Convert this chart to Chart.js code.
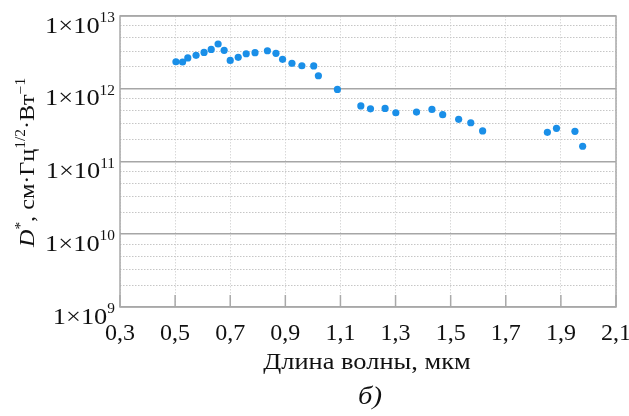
<!DOCTYPE html>
<html>
<head>
<meta charset="utf-8">
<script src="https://cdn.jsdelivr.net/npm/chart.js@4/dist/chart.umd.min.js"></script>
<style>
  body { margin: 0; background: #fff; }
  #wrap { width: 629px; height: 416px; position: relative; }
</style>
</head>
<body>
<div id="wrap"><canvas id="myChart"></canvas></div>
<script>
'use strict';

// wavelength, um
var wavelength = [0.503, 0.527, 0.546, 0.576, 0.605, 0.631, 0.656, 0.678, 0.700, 0.729,
                  0.758, 0.790, 0.835, 0.866, 0.890, 0.924, 0.960, 1.003, 1.020, 1.089,
                  1.174, 1.209, 1.262, 1.301, 1.376, 1.432, 1.471, 1.529, 1.573, 1.616,
                  1.851, 1.884, 1.951, 1.979];
// D*, cm*Hz^1/2*W^-1
var detectivity = [2.35e12, 2.33e12, 2.65e12, 2.88e12, 3.16e12, 3.47e12, 4.12e12, 3.37e12, 2.45e12, 2.70e12,
                   3.03e12, 3.13e12, 3.33e12, 3.07e12, 2.54e12, 2.24e12, 2.07e12, 2.06e12, 1.51e12, 0.98e12,
                   5.8e11, 5.3e11, 5.37e11, 4.68e11, 4.78e11, 5.2e11, 4.4e11, 3.8e11, 3.41e11, 2.63e11,
                   2.52e11, 2.86e11, 2.6e11, 1.62e11];

var xTicks = [0.3, 0.5, 0.7, 0.9, 1.1, 1.3, 1.5, 1.7, 1.9, 2.1];
var yDecades = [1e9, 1e10, 1e11, 1e12, 1e13];
var yMinorSteps = [2, 3.3, 5, 7.3];

var xTitle = 'Длина волны, мкм';
var panelLabel = 'б)';

var serif = '"Liberation Serif", "Times New Roman", serif';
var stretch = 1.1; // the scanned figure's lettering is a little wider than Liberation Serif

var points = wavelength.map(function (w, i) { return { x: w, y: detectivity[i] }; });

// draw text segments in a row, stretched horizontally, anchored by align
function drawRow(ctx, parts, x, y, align) {
    var total = 0;
    parts.forEach(function (p) { ctx.font = p.f; p.w = ctx.measureText(p.t).width; total += p.w; });
    ctx.save();
    ctx.translate(x, y);
    ctx.scale(stretch, 1);
    ctx.textAlign = 'left';
    ctx.textBaseline = 'alphabetic';
    var cx = align === 'right' ? -total : align === 'center' ? -total / 2 : 0;
    parts.forEach(function (p) {
        ctx.font = p.f;
        ctx.fillText(p.t, cx, -(p.up || 0));
        cx += p.w;
    });
    ctx.restore();
}

var decorations = {
    id: 'decorations',
    beforeDatasetsDraw: function (chart) {
        var ctx = chart.ctx, a = chart.chartArea, x = chart.scales.x;
        ctx.save();
        ctx.strokeStyle = '#a9a9a9';
        ctx.lineWidth = 1.5;
        ctx.beginPath();
        x.ticks.forEach(function (t) {
            var px = x.getPixelForValue(t.value);
            ctx.moveTo(px, a.bottom);
            ctx.lineTo(px, a.bottom - 12);
        });
        ctx.stroke();
        ctx.strokeRect(a.left, a.top, a.right - a.left, a.bottom - a.top);
        ctx.restore();
    },
    afterDraw: function (chart) {
        var ctx = chart.ctx, a = chart.chartArea, y = chart.scales.y;
        ctx.save();
        ctx.fillStyle = '#111';

        // y tick labels 1x10^n
        y.ticks.forEach(function (t) {
            if (!t.major) return;
            var py = y.getPixelForValue(t.value);
            var exp = String(Math.round(Math.log10(t.value)));
            drawRow(ctx, [
                { t: '1×10', f: '24px ' + serif, up: 0 },
                { t: exp, f: '14px ' + serif, up: 10.5 }
            ], a.left - 5, py + 16.5, 'right');
        });

        // y axis title, rotated, with superscripts
        ctx.save();
        ctx.translate(34, (a.top + a.bottom) / 2 + 1);
        ctx.rotate(-Math.PI / 2);
        drawRow(ctx, [
            { t: 'D', f: 'italic 22px ' + serif },
            { t: '*', f: '14px ' + serif, up: 9 },
            { t: ', см·Гц', f: '22px ' + serif },
            { t: '1/2', f: '14px ' + serif, up: 9 },
            { t: '·Вт', f: '22px ' + serif },
            { t: '−1', f: '14px ' + serif, up: 9 }
        ], 0, 0, 'center');
        ctx.restore();

        // x axis title and panel label
        var mid = (a.left + a.right) / 2;
        drawRow(ctx, [{ t: xTitle, f: '24px ' + serif }], mid - 1, 369, 'center');
        drawRow(ctx, [{ t: panelLabel, f: 'italic 26px ' + serif }], mid + 2, 404, 'center');
        ctx.restore();
    }
};

var ctx = document.getElementById('myChart').getContext('2d');
var chart = new Chart(ctx, {
    type: 'scatter',
    data: {
        datasets: [{
            data: points,
            backgroundColor: '#1a8fe8',
            borderWidth: 0,
            pointRadius: 3.6
        }]
    },
    options: {
        responsive: true,
        maintainAspectRatio: false,
        animation: false,
        layout: { padding: { top: 16, right: 13, left: 0, bottom: 0 } },
        plugins: { legend: { display: false }, tooltip: { enabled: false } },
        scales: {
            x: {
                type: 'linear',
                min: 0.3,
                max: 2.1,
                afterBuildTicks: function (s) {
                    s.ticks = xTicks.map(function (v) { return { value: v }; });
                },
                afterFit: function (s) {
                    s.height = 109;
                    s.paddingLeft = 0;
                    s.paddingRight = 0;
                },
                grid: { color: '#d9d9d9', lineWidth: 1, drawTicks: false },
                border: { display: false, dash: [1.5, 1.5] },
                ticks: {
                    color: '#111',
                    padding: 12,
                    maxRotation: 0,
                    autoSkip: false,
                    font: { family: serif, size: 24 },
                    callback: function (v) { return v.toFixed(1).replace('.', ','); }
                }
            },
            y: {
                type: 'logarithmic',
                min: 1e9,
                max: 1e13,
                afterBuildTicks: function (s) {
                    var t = [];
                    yDecades.forEach(function (d, i) {
                        t.push({ value: d, major: true });
                        if (i < yDecades.length - 1) {
                            yMinorSteps.forEach(function (m) { t.push({ value: d * m, major: false }); });
                        }
                    });
                    s.ticks = t;
                },
                afterFit: function (s) { s.width = 120; },
                grid: {
                    drawTicks: false,
                    color: function (c) { return c.tick && c.tick.major ? '#a6a6a6' : '#c6c6c6'; },
                    lineWidth: function (c) { return c.tick && c.tick.major ? 1.6 : 1; }
                },
                border: {
                    display: false,
                    dash: function (c) { return c.tick && c.tick.major ? [] : [1.5, 1.5]; }
                },
                ticks: { display: false }
            }
        }
    },
    plugins: [decorations]
});
</script>
</body>
</html>
